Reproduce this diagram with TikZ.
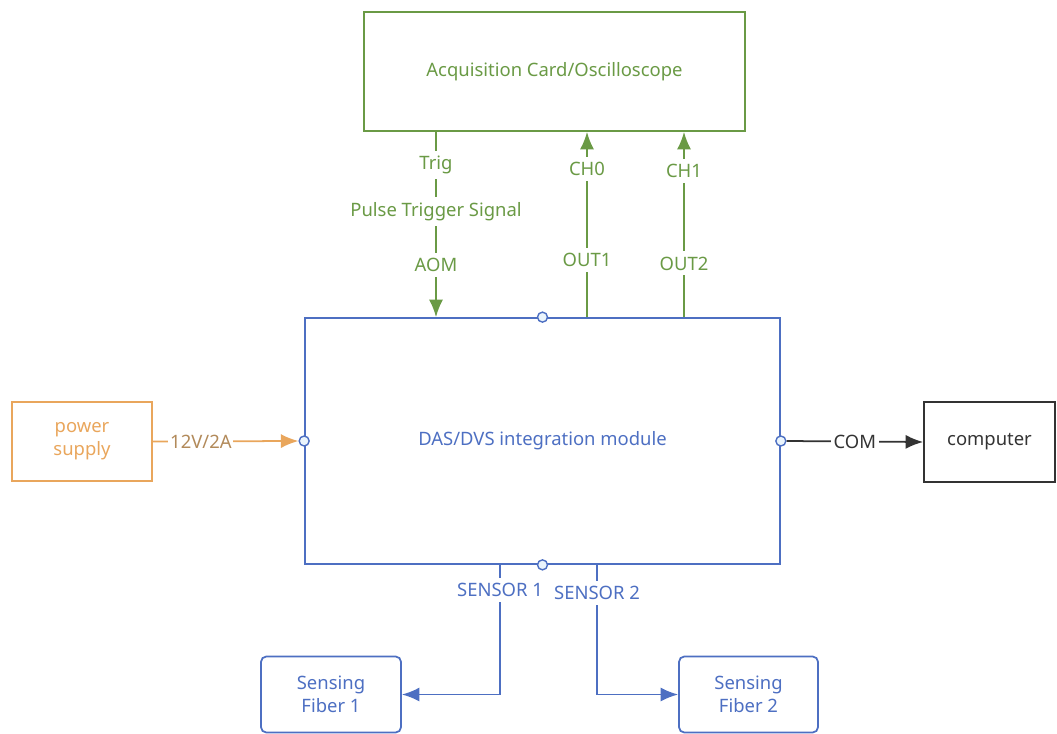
\documentclass[tikz,border=0pt]{standalone}
\usepackage{fontspec}
\setmainfont{Noto Sans}
\usetikzlibrary{arrows.meta}
\definecolor{acqgreen}{HTML}{6A9A45}
\definecolor{dasblue}{HTML}{4D6FC2}
\definecolor{pwrorange}{HTML}{E9A65C}
\definecolor{pwrtext}{HTML}{B28A5A}
\definecolor{comgray}{HTML}{333333}
\definecolor{portfill}{HTML}{EAF4FC}

\begin{document}
\begin{tikzpicture}
      [%%%%%%%%%%%%%%%%%%%%%%%%%%%%%%
      x=0.02cm, y=-0.02cm,
      font=\fontsize{10.5}{13}\selectfont,
      block/.style={rectangle,draw,line width=1pt,align=center,inner sep=0pt},
      port/.style={circle,draw=dasblue,fill=portfill,line width=0.8pt,minimum size=0.2cm,inner sep=0pt},
      lbl/.style={fill=white,inner sep=3pt},
      wire/.style={line width=1pt},
      tip/.style={-{Latex[length=10pt,width=8pt]}},
      ]%%%%%%%%%%%%%%%%%%%%%%%%%%%%%%
      \useasboundingbox (0,0) rectangle (1057,733);

      % boxes
      \node[block,draw=acqgreen,text=acqgreen,minimum width=7.62cm,minimum height=2.38cm] (acq) at (554.5,71.5) {Acquisition Card/Oscilloscope};
      \node[block,draw=dasblue,text=dasblue,minimum width=9.5cm,minimum height=4.92cm] (das) at (542.5,441) {DAS/DVS integration module};
      \node[block,draw=pwrorange,text=pwrorange,minimum width=2.8cm,minimum height=1.58cm] (pwr) at (82,441.5) {power\\supply};
      \node[block,draw=comgray,text=comgray,minimum width=2.62cm,minimum height=1.6cm] (pc) at (989.5,442) {computer};
      \node[block,draw=dasblue,text=dasblue,rounded corners=3pt,minimum width=2.8cm,minimum height=1.52cm] (fib1) at (331,694.5) {Sensing\\Fiber 1};
      \node[block,draw=dasblue,text=dasblue,rounded corners=3pt,minimum width=2.78cm,minimum height=1.52cm] (fib2) at (748.5,694.5) {Sensing\\Fiber 2};

      % line positions
      \coordinate (trig) at (436,0);
      \coordinate (ch0) at (587,0);
      \coordinate (ch1) at (684,0);
      \coordinate (s1) at (500,564);
      \coordinate (s2) at (597,564);

      % green signals
      \draw[wire,acqgreen,tip] (acq.south -| trig) --
        node[lbl,text=acqgreen,pos=0.18]{Trig}
        node[lbl,text=acqgreen,pos=0.43]{Pulse Trigger Signal}
        node[lbl,text=acqgreen,pos=0.72]{AOM} (das.north -| trig);
      \draw[wire,acqgreen,tip] (das.north -| ch0) --
        node[lbl,text=acqgreen,pos=0.31]{OUT1}
        node[lbl,text=acqgreen,pos=0.80]{CH0} (acq.south -| ch0);
      \draw[wire,acqgreen,tip] (das.north -| ch1) --
        node[lbl,text=acqgreen,pos=0.29]{OUT2}
        node[lbl,text=acqgreen,pos=0.79]{CH1} (acq.south -| ch1);

      % sensors
      \draw[wire,dasblue,tip] (s1) -- node[lbl,text=dasblue,pos=0.2]{SENSOR 1} (s1 |- fib1) -- (fib1.east);
      \draw[wire,dasblue,tip] (s2) -- node[lbl,text=dasblue,pos=0.22]{SENSOR 2} (s2 |- fib2) -- (fib2.west);

      % ports
      \node[port] (ptop) at (das.north) {};
      \node[port] (pbot) at (das.south) {};
      \node[port] (pleft) at (das.west) {};
      \node[port] (pright) at (das.east) {};

      % power and com
      \draw[wire,pwrorange,tip] (pwr.east) -- node[lbl,text=pwrtext,pos=0.33,inner sep=1pt,font=\fontsize{10.5}{13}\selectfont\bfseries]{12V/2A} (pleft.west);
      \draw[wire,comgray,tip] (pright.east) -- node[lbl,text=comgray,pos=0.5,inner sep=1.5pt]{COM} (pc.west);
    \end{tikzpicture}
\end{document}
